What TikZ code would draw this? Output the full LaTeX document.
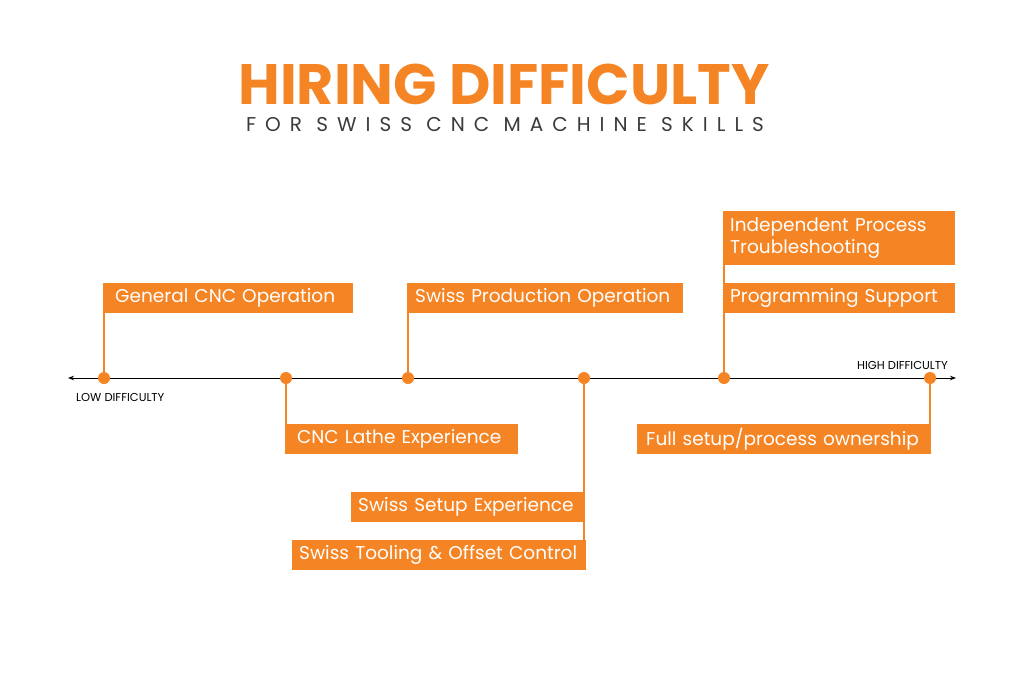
\documentclass[tikz,border=0pt]{standalone}
\usepackage{fontspec}
\setmainfont{Poppins}
\usetikzlibrary{arrows.meta}
\definecolor{org}{HTML}{F58524}
\definecolor{dk}{HTML}{3D3A3A}
\tikzset{
 box/.style={fill=org,text=white,font=\fontsize{18.5}{22}\selectfont,inner sep=0pt,anchor=north west,align=left},
 stem/.style={draw=org,line width=1.6pt},
 dot/.style={circle,fill=org,minimum size=12pt,inner sep=0pt},
 tag/.style={font=\fontsize{11.5}{13}\selectfont,text=black}
}
\begin{document}
\begin{tikzpicture}[x=1pt,y=-1pt]
\useasboundingbox (0,0) rectangle (1024,685);
\node[text=org,font=\fontsize{57}{60}\bfseries\selectfont] (title) at (504,84) {HIRING DIFFICULTY};
\node[text=dk,font=\addfontfeatures{LetterSpace=45}\fontsize{20}{22}\selectfont] (sub) at (505,125) {FOR SWISS CNC MACHINE SKILLS};
\coordinate (L) at (68,378); \coordinate (R) at (956,378);
\draw[{Stealth[length=6pt]}-{Stealth[length=6pt]},line width=1pt] (L) -- (R);
\node[tag,anchor=north west,inner sep=0pt] (low) at (76,393) {LOW DIFFICULTY};
\node[tag,anchor=south east,inner sep=0pt] (high) at (948,370) {HIGH DIFFICULTY};
% boxes
\path (104,283) node[box,minimum width=249pt,minimum height=30pt,text width=249pt] (b1) {\hspace*{11pt}General CNC Operation};
\path (408,283) node[box,minimum width=275pt,minimum height=30pt,text width=275pt] (b2) {\hspace*{7pt}Swiss Production Operation};
\path (723,211) node[box,minimum width=232pt,minimum height=54pt,text width=232pt] (b3) {\hspace*{7pt}Independent Process\\\hspace*{7pt}Troubleshooting};
\path (723,283) node[box,minimum width=232pt,minimum height=30pt,text width=232pt] (b4) {\hspace*{7pt}Programming Support};
\path (286,424) node[box,minimum width=232pt,minimum height=30pt,text width=232pt] (b5) {\hspace*{11pt}CNC Lathe Experience};
\path (351,492) node[box,minimum width=233pt,minimum height=30pt,text width=233pt] (b6) {\hspace*{7pt}Swiss Setup Experience};
\path (292,540) node[box,minimum width=294pt,minimum height=30pt,text width=294pt] (b7) {\hspace*{7pt}Swiss Tooling \& Offset Control};
\path (637,424) node[box,minimum width=294pt,minimum height=30pt,text width=294pt] (b8) {\hspace*{9pt}Full setup/process ownership};
% dots
\node[dot] (d1) at (104,378) {};
\node[dot] (d2) at (286,378) {};
\node[dot] (d3) at (408,378) {};
\node[dot] (d4) at (584,378) {};
\node[dot] (d5) at (724,378) {};
\node[dot] (d6) at (930,378) {};
% stems
\draw[stem] (d1.center) -- (b1.north west);
\draw[stem] (d2.center) -- (b5.south west);
\draw[stem] (d3.center) -- (b2.north west);
\draw[stem] (d4.center) -- (b7.south east -| d4);
\draw[stem] (d5.center) -- (b3.north west -| d5);
\draw[stem] (d6.center) -- (b8.south east -| d6);
\end{tikzpicture}
\end{document}
